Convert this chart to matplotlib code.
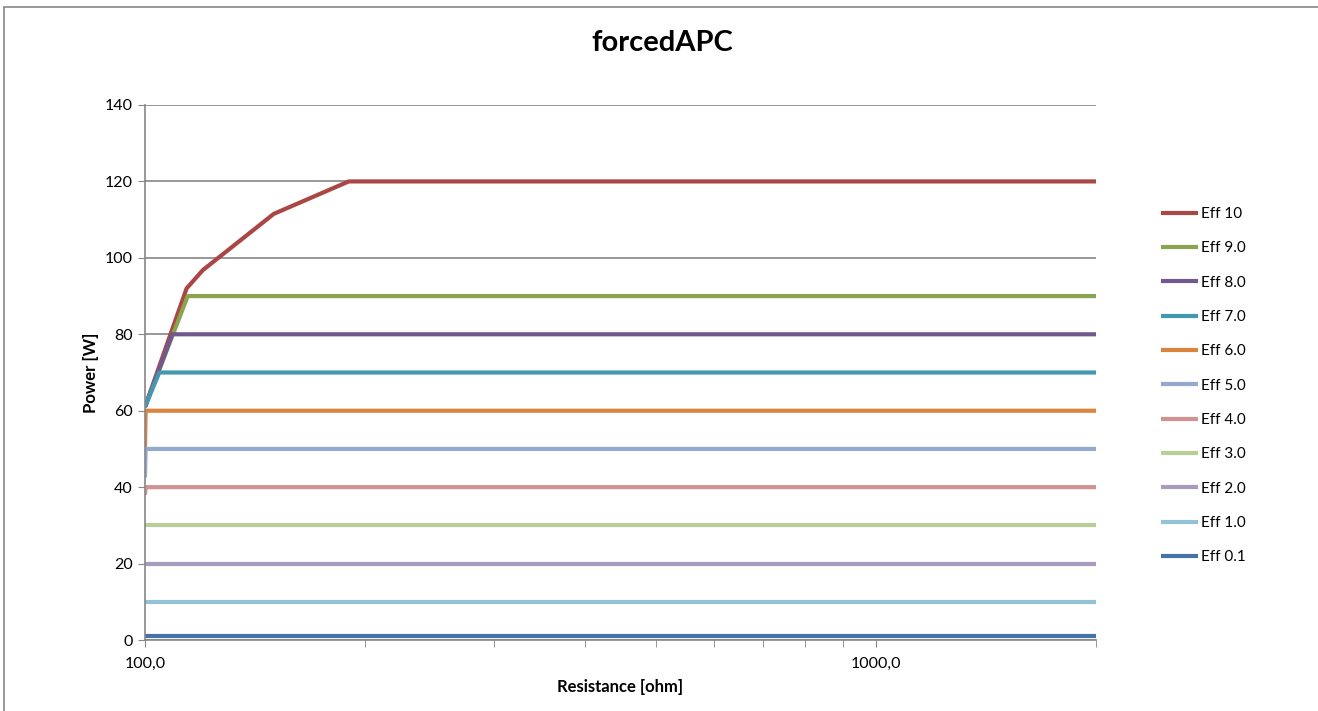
import matplotlib.pyplot as plt
from matplotlib.patches import Rectangle
from matplotlib.ticker import FixedLocator, FuncFormatter, NullFormatter

plt.rcParams['font.family'] = ['Lato', 'DejaVu Sans']

# series, in legend order
labels = ['Eff 10', 'Eff 9.0', 'Eff 8.0', 'Eff 7.0', 'Eff 6.0', 'Eff 5.0',
          'Eff 4.0', 'Eff 3.0', 'Eff 2.0', 'Eff 1.0', 'Eff 0.1']
colors = ['#AA4643', '#89A54E', '#71588F', '#4198AF', '#DB843D', '#93A9CF',
          '#D19392', '#B9CD96', '#A99BBD', '#92C3D4', '#4572A7']

res_10 = [100, 114, 120, 150, 190, 2000]
pow_10 = [61, 92, 96.8, 111.5, 120, 120]
res_9 = [100, 114.4, 2000]
pow_9 = [61, 90, 90]
res_8 = [100, 109, 2000]
pow_8 = [61, 80, 80]
res_7 = [100, 104.6, 2000]
pow_7 = [61, 70, 70]
res_6 = [100, 100.2, 2000]
pow_6 = [50.5, 60, 60]
res_5 = [100, 100.2, 2000]
pow_5 = [42.5, 50, 50]
res_4 = [100, 100.2, 2000]
pow_4 = [38, 40, 40]
res_3 = [100, 2000]
pow_3 = [30, 30]
res_2 = [100, 2000]
pow_2 = [20, 20]
res_1 = [100, 2000]
pow_1 = [10, 10]
res_01 = [100, 2000]
pow_01 = [1, 1]

xs = [res_10, res_9, res_8, res_7, res_6, res_5, res_4, res_3, res_2, res_1, res_01]
ys = [pow_10, pow_9, pow_8, pow_7, pow_6, pow_5, pow_4, pow_3, pow_2, pow_1, pow_01]

grid_c = '#868686'

fig = plt.figure(figsize=(13.18, 7.11), dpi=100)
ax = fig.add_axes([145/1318, 1-640/711, (1096-145)/1318, (640-105)/711])

for x, y, lab, c in zip(xs, ys, labels, colors):
    ax.plot(x, y, color=c, lw=3, label=lab, solid_capstyle='butt')

ax.set_xscale('log')
ax.set_xlim(100, 2000)
ax.set_ylim(0, 140)
ax.xaxis.set_major_locator(FixedLocator([100, 1000]))
ax.xaxis.set_minor_locator(FixedLocator([200, 300, 400, 500, 600, 700, 800, 900, 2000]))
ax.xaxis.set_major_formatter(FuncFormatter(lambda v, p: f'{v:.1f}'.replace('.', ',')))
ax.xaxis.set_minor_formatter(NullFormatter())
ax.set_yticks(range(0, 141, 20))

ax.grid(axis='y', color=grid_c, lw=1.2)
ax.set_axisbelow(True)
for s in ['top', 'right']:
    ax.spines[s].set_visible(False)
for s in ['left', 'bottom']:
    ax.spines[s].set_color(grid_c)
    ax.spines[s].set_linewidth(1.2)
ax.tick_params(axis='both', which='both', direction='out', length=5, color=grid_c,
               labelsize=11.5, pad=7)
ax.tick_params(axis='y', pad=4)

ax.set_xlabel('Resistance [ohm]', fontsize=12, fontweight='bold', labelpad=6)
ax.set_ylabel('Power [W]', fontsize=12, fontweight='bold', labelpad=4)
fig.text(0.5027, 1-51/711, 'forcedAPC', ha='center', va='baseline',
         fontsize=21, fontweight='bold')

ax.legend(loc='upper left', bbox_to_anchor=(1161/1318, 1-207/711),
          bbox_transform=fig.transFigure, frameon=False, fontsize=11,
          handlelength=2.4, handletextpad=0.2, labelspacing=1.33,
          borderaxespad=0, borderpad=0)

fig.add_artist(Rectangle((4/1318, -0.1), 1.2, 1.1 - 7/711, transform=fig.transFigure,
                         fill=False, edgecolor=grid_c, lw=1.2, clip_on=False))

fig.savefig('out.png', dpi=100)
